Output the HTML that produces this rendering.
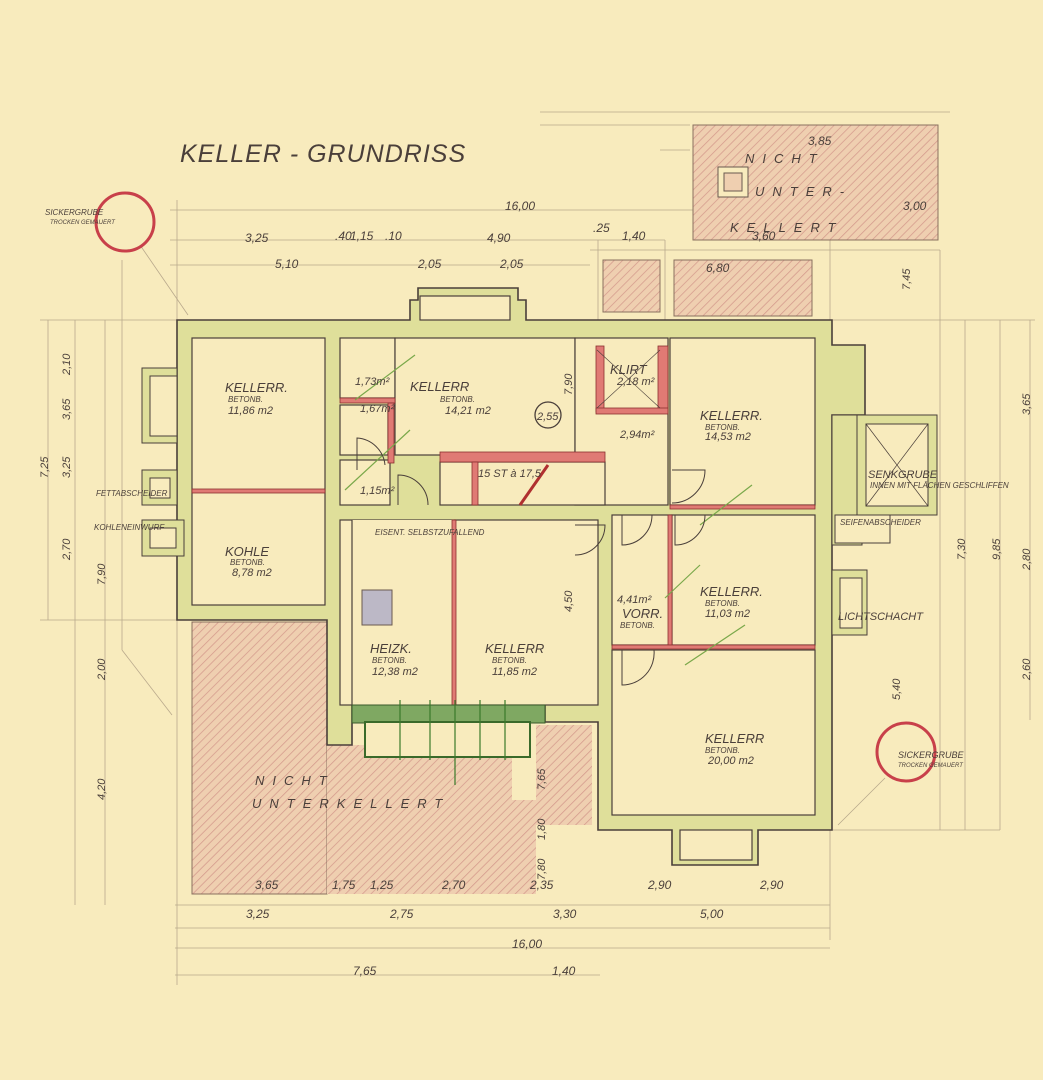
<!DOCTYPE html>
<html><head><meta charset="utf-8"><style>
html,body{margin:0;padding:0;background:#f8ebbd;}
svg{display:block}
text{font-family:"Liberation Sans",sans-serif;font-style:italic;fill:#4a3f3a}
</style></head><body>
<svg width="1043" height="1080" viewBox="0 0 1043 1080" xmlns="http://www.w3.org/2000/svg">
<defs>
<pattern id="h" width="6" height="6" patternUnits="userSpaceOnUse" patternTransform="rotate(45)">
<rect width="6" height="6" fill="#efcfb0"/><line x1="0" y1="0" x2="0" y2="6" stroke="#d49a8c" stroke-width="1.5"/>
</pattern>
</defs>
<rect width="1043" height="1080" fill="#f8ebbd"/>
<g stroke="#b9a98c" stroke-width="0.8" fill="none">
<line x1="170" y1="210" x2="830" y2="210"/>
<line x1="170" y1="240" x2="665" y2="240"/>
<line x1="170" y1="265" x2="590" y2="265"/>
<line x1="175" y1="905" x2="830" y2="905"/>
<line x1="175" y1="928" x2="830" y2="928"/>
<line x1="175" y1="948" x2="830" y2="948"/>
<line x1="175" y1="975" x2="600" y2="975"/>
<line x1="48" y1="320" x2="48" y2="620"/>
<line x1="75" y1="320" x2="75" y2="905"/>
<line x1="105" y1="320" x2="105" y2="905"/>
<line x1="965" y1="320" x2="965" y2="830"/>
<line x1="1000" y1="320" x2="1000" y2="830"/>
<line x1="1030" y1="320" x2="1030" y2="720"/>
<line x1="940" y1="250" x2="940" y2="830"/>
<line x1="40" y1="320" x2="177" y2="320"/>
<line x1="40" y1="620" x2="177" y2="620"/>
<line x1="832" y1="320" x2="1035" y2="320"/>
<line x1="832" y1="830" x2="1000" y2="830"/>
<line x1="540" y1="112" x2="950" y2="112"/>
<line x1="540" y1="125" x2="690" y2="125"/>
<line x1="660" y1="150" x2="690" y2="150"/>
<line x1="177" y1="200" x2="177" y2="985"/>
<line x1="830" y1="200" x2="830" y2="940"/>
<line x1="598" y1="240" x2="598" y2="320"/>
<line x1="665" y1="240" x2="665" y2="320"/>
<line x1="590" y1="250" x2="940" y2="250"/>
<line x1="122" y1="260" x2="122" y2="650"/>
<line x1="122" y1="650" x2="172" y2="715"/>
<line x1="140" y1="245" x2="188" y2="315"/>
<line x1="885" y1="778" x2="838" y2="825"/>
</g>
<g stroke="#8a7060" stroke-width="1">
<rect x="192" y="622" width="135" height="272" fill="url(#h)"/>
<rect x="327" y="745" width="185" height="149" fill="url(#h)" stroke="none"/>
<rect x="512" y="800" width="24" height="94" fill="url(#h)" stroke="none"/>
<rect x="536" y="725" width="56" height="100" fill="url(#h)" stroke="none"/>
<rect x="693" y="125" width="245" height="115" fill="url(#h)"/>
<rect x="603" y="260" width="57" height="52" fill="url(#h)"/>
<rect x="674" y="260" width="138" height="56" fill="url(#h)"/>
</g>
<rect x="718" y="167" width="30" height="30" fill="#f8ebbd" stroke="#6a5a50"/>
<rect x="724" y="173" width="18" height="18" fill="#efcfb0" stroke="#6a5a50"/>
<polygon points="177,320 410,320 410,300 418,300 418,288 518,288 518,300 526,300 526,320 832,320 832,345 865,345 865,415 832,415 832,830 758,830 758,865 672,865 672,830 598,830 598,722 545,722 545,705 352,705 352,745 327,745 327,620 177,620" fill="#dfdf9a" stroke="#4a3f3a" stroke-width="1.6"/>
<rect x="142" y="368" width="35" height="75" fill="#dfdf9a" stroke="#4a3f3a"/>
<rect x="150" y="376" width="27" height="60" fill="#f8ebbd" stroke="#4a3f3a"/>
<rect x="142" y="470" width="35" height="35" fill="#dfdf9a" stroke="#4a3f3a"/>
<rect x="150" y="478" width="20" height="20" fill="#f8ebbd" stroke="#4a3f3a"/>
<rect x="142" y="520" width="42" height="36" fill="#dfdf9a" stroke="#4a3f3a"/>
<rect x="150" y="528" width="26" height="20" fill="#f8ebbd" stroke="#4a3f3a"/>
<rect x="832" y="415" width="30" height="130" fill="#dfdf9a" stroke="#4a3f3a"/>
<rect x="857" y="415" width="80" height="100" fill="#dfdf9a" stroke="#4a3f3a"/>
<rect x="866" y="424" width="62" height="82" fill="#f8ebbd" stroke="#4a3f3a"/>
<line x1="866" y1="424" x2="928" y2="506" stroke="#4a3f3a" stroke-width=".7"/>
<line x1="928" y1="424" x2="866" y2="506" stroke="#4a3f3a" stroke-width=".7"/>
<rect x="835" y="515" width="55" height="28" fill="#f8ebbd" stroke="#4a3f3a"/>
<rect x="832" y="570" width="35" height="65" fill="#dfdf9a" stroke="#4a3f3a"/>
<rect x="840" y="578" width="22" height="50" fill="#f8ebbd" stroke="#4a3f3a"/>
<g fill="#f8ebbd" stroke="#4a3f3a" stroke-width="1.2">
<rect x="192" y="338" width="133" height="267"/>
<rect x="340" y="338" width="55" height="60"/>
<rect x="340" y="405" width="48" height="50"/>
<rect x="340" y="460" width="50" height="45"/>
<rect x="395" y="338" width="180" height="117"/>
<rect x="575" y="338" width="93" height="167"/>
<rect x="670" y="338" width="145" height="167"/>
<rect x="440" y="462" width="165" height="43"/>
<rect x="340" y="520" width="115" height="185"/>
<rect x="455" y="520" width="143" height="185"/>
<rect x="612" y="515" width="60" height="130"/>
<rect x="672" y="515" width="143" height="130"/>
<rect x="612" y="650" width="203" height="165"/>
<rect x="680" y="830" width="72" height="30"/>
<rect x="420" y="296" width="90" height="24"/>
</g>
<rect x="352" y="520" width="103" height="185" fill="#f8ebbd"/>
<line x1="352" y1="520" x2="352" y2="705" stroke="#4a3f3a" stroke-width="1.2"/>
<g fill="#e07a74" stroke="#8a3030" stroke-width=".8">
<rect x="192" y="489" width="133" height="4"/>
<rect x="596" y="346" width="8" height="66"/>
<rect x="658" y="346" width="10" height="66"/>
<rect x="596" y="408" width="72" height="6"/>
<rect x="440" y="452" width="165" height="10"/>
<rect x="472" y="462" width="6" height="43"/>
<rect x="670" y="505" width="145" height="4"/>
<rect x="452" y="520" width="4" height="185"/>
<rect x="668" y="515" width="4" height="130"/>
<rect x="612" y="645" width="203" height="4"/>
<rect x="340" y="398" width="55" height="5"/>
<rect x="388" y="403" width="6" height="60"/>
</g>
<line x1="520" y1="505" x2="548" y2="465" stroke="#b03030" stroke-width="3"/>
<line x1="597" y1="350" x2="660" y2="408" stroke="#4a3f3a" stroke-width=".6"/>
<line x1="660" y1="350" x2="597" y2="408" stroke="#4a3f3a" stroke-width=".6"/>
<rect x="362" y="590" width="30" height="35" fill="#bcb8c6" stroke="#6a5a50"/>
<rect x="352" y="705" width="193" height="18" fill="#7fa862" stroke="#3a5a2a"/>
<rect x="365" y="722" width="165" height="35" fill="#f8ebbd" stroke="#3a6a2a" stroke-width="2"/>
<g stroke="#3a7a2a" stroke-width="1.2">
<line x1="400" y1="700" x2="400" y2="760"/><line x1="430" y1="700" x2="430" y2="760"/>
<line x1="455" y1="700" x2="455" y2="785"/><line x1="480" y1="700" x2="480" y2="760"/>
<line x1="505" y1="700" x2="505" y2="760"/>
</g>
<g stroke="#7aa84a" stroke-width="1.2">
<line x1="355" y1="400" x2="415" y2="355"/><line x1="345" y1="490" x2="410" y2="430"/>
<line x1="700" y1="525" x2="752" y2="485"/><line x1="665" y1="598" x2="700" y2="565"/>
<line x1="685" y1="665" x2="745" y2="625"/>
</g>
<g fill="none" stroke="#4a3f3a" stroke-width="1">
<path d="M398 505 L398 475 A30 30 0 0 1 428 505"/>
<path d="M357 470 L357 438 A30 30 0 0 1 385 465"/>
<path d="M672 470 L705 470 A33 33 0 0 1 672 503"/>
<path d="M622 515 L622 545 A30 30 0 0 0 652 515"/>
<path d="M675 515 L675 545 A30 30 0 0 0 705 515"/>
<path d="M622 650 L622 685 A32 32 0 0 0 654 650"/>
<path d="M575 525 L605 525 A30 30 0 0 1 575 555"/>
</g>
<circle cx="125" cy="222" r="29" fill="none" stroke="#c8404a" stroke-width="3"/>
<circle cx="906" cy="752" r="29" fill="none" stroke="#c8404a" stroke-width="3"/>
<circle cx="548" cy="415" r="13" fill="none" stroke="#4a3f3a" stroke-width="1.3"/>
<text x="180" y="162" font-size="25" letter-spacing="1">KELLER - GRUNDRISS</text>
<text x="45" y="215" font-size="8">SICKERGRUBE</text>
<text x="50" y="224" font-size="6">TROCKEN GEMAUERT</text>
<text x="898" y="758" font-size="9">SICKERGRUBE</text>
<text x="898" y="767" font-size="6">TROCKEN GEMAUERT</text>
<g font-size="12">
<text x="505" y="210">16,00</text>
<text x="245" y="242">3,25</text><text x="335" y="240">.40</text><text x="350" y="240">1,15</text><text x="385" y="240">.10</text>
<text x="487" y="242">4,90</text><text x="593" y="232">.25</text><text x="622" y="240">1,40</text>
<text x="275" y="268">5,10</text><text x="418" y="268">2,05</text><text x="500" y="268">2,05</text>
<text x="706" y="272">6,80</text>
<text x="255" y="889">3,65</text><text x="332" y="889">1,75</text><text x="370" y="889">1,25</text><text x="442" y="889">2,70</text>
<text x="530" y="889">2,35</text><text x="648" y="889">2,90</text><text x="760" y="889">2,90</text>
<text x="246" y="918">3,25</text><text x="390" y="918">2,75</text><text x="553" y="918">3,30</text><text x="700" y="918">5,00</text>
<text x="512" y="948">16,00</text>
<text x="353" y="975">7,65</text><text x="552" y="975">1,40</text>
<text x="808" y="145">3,85</text><text x="903" y="210">3,00</text><text x="752" y="240">3,60</text>
</g>
<g font-size="13" letter-spacing="8">
<text x="745" y="163">NICHT</text><text x="755" y="196">UNTER-</text><text x="730" y="232">KELLERT</text>
<text x="255" y="785">NICHT</text><text x="252" y="808">UNTERKELLERT</text>
</g>
<g font-size="13">
<text x="225" y="392">KELLERR.</text><text x="410" y="391">KELLERR</text><text x="700" y="420">KELLERR.</text>
<text x="225" y="556">KOHLE</text><text x="370" y="653">HEIZK.</text><text x="485" y="653">KELLERR</text>
<text x="700" y="596">KELLERR.</text><text x="705" y="743">KELLERR</text><text x="622" y="618">VORR.</text>
<text x="610" y="374">KLIRT</text>
</g>
<g font-size="8">
<text x="228" y="402">BETONB.</text><text x="440" y="402">BETONB.</text><text x="705" y="430">BETONB.</text>
<text x="230" y="565">BETONB.</text><text x="372" y="663">BETONB.</text><text x="492" y="663">BETONB.</text>
<text x="705" y="606">BETONB.</text><text x="705" y="753">BETONB.</text><text x="620" y="628">BETONB.</text>
<text x="375" y="535">EISENT. SELBSTZUFALLEND</text>
<text x="870" y="488">INNEN MIT FLÄCHEN GESCHLIFFEN</text>
</g>
<g font-size="11">
<text x="228" y="414">11,86 m2</text><text x="445" y="414">14,21 m2</text><text x="705" y="440">14,53 m2</text>
<text x="232" y="576">8,78 m2</text><text x="372" y="675">12,38 m2</text><text x="492" y="675">11,85 m2</text>
<text x="705" y="617">11,03 m2</text><text x="708" y="764">20,00 m2</text><text x="617" y="603">4,41m²</text>
<text x="617" y="385">2,18 m²</text><text x="620" y="438">2,94m²</text><text x="537" y="420">2,55</text>
<text x="355" y="385">1,73m²</text><text x="360" y="412">1,67m²</text><text x="360" y="494">1,15m²</text>
<text x="478" y="477">15 ST à 17,5</text>
<text x="868" y="478">SENKGRUBE</text><text x="840" y="525" font-size="8">SEIFENABSCHEIDER</text>
<text x="838" y="620">LICHTSCHACHT</text>
<text x="96" y="496" font-size="8">FETTABSCHEIDER</text><text x="94" y="530" font-size="8">KOHLENEINWURF</text>
</g>
<g font-size="11">
<text transform="translate(70,375) rotate(-90)">2,10</text>
<text transform="translate(70,420) rotate(-90)">3,65</text>
<text transform="translate(70,478) rotate(-90)">3,25</text>
<text transform="translate(48,478) rotate(-90)">7,25</text>
<text transform="translate(70,560) rotate(-90)">2,70</text>
<text transform="translate(105,585) rotate(-90)">7,90</text>
<text transform="translate(105,680) rotate(-90)">2,00</text>
<text transform="translate(105,800) rotate(-90)">4,20</text>
<text transform="translate(1030,415) rotate(-90)">3,65</text>
<text transform="translate(1000,560) rotate(-90)">9,85</text>
<text transform="translate(1030,570) rotate(-90)">2,80</text>
<text transform="translate(1030,680) rotate(-90)">2,60</text>
<text transform="translate(965,560) rotate(-90)">7,30</text>
<text transform="translate(900,700) rotate(-90)">5,40</text>
<text transform="translate(572,395) rotate(-90)">7,90</text>
<text transform="translate(572,612) rotate(-90)">4,50</text>
<text transform="translate(910,290) rotate(-90)">7,45</text>
<text transform="translate(545,790) rotate(-90)">7,65</text>
<text transform="translate(545,840) rotate(-90)">1,80</text>
<text transform="translate(545,880) rotate(-90)">7,80</text>
</g>
</svg>
</body></html>
